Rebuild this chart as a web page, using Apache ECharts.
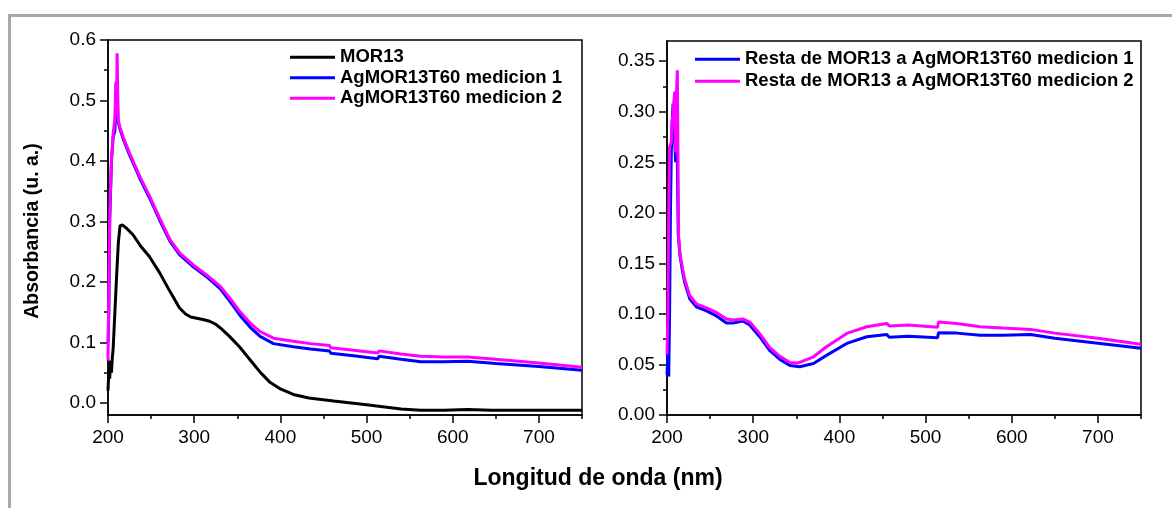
<!DOCTYPE html>
<html>
<head>
<meta charset="utf-8">
<script src="https://cdn.jsdelivr.net/npm/echarts@6/dist/echarts.min.js"></script>
<style>
  html, body { margin: 0; padding: 0; background: #ffffff; }
  #chart { width: 1172px; height: 508px; }
</style>
</head>
<body>
<div id="chart"></div>
<script>
// ---- UV-Vis spectra: wavelength (nm) and absorbance (u. a.) ----

// Left panel: MOR13
const wlMor13 = [200, 201, 202, 203, 204, 205, 206, 208, 210, 212, 214, 217, 222, 229, 238, 248, 260, 272, 283,
  290, 296, 303, 310, 318, 325, 332, 341, 353, 365, 377, 388, 400, 415, 433, 462, 500, 540, 563, 590,
  617, 645, 671, 700, 750];
const absMor13 = [0.020, 0.055, 0.040, 0.070, 0.050, 0.075, 0.090, 0.150, 0.210, 0.265, 0.293, 0.294, 0.288, 0.278, 0.259, 0.242, 0.215, 0.184, 0.157,
  0.147, 0.142, 0.140, 0.138, 0.135, 0.130, 0.122, 0.110, 0.092, 0.071, 0.050, 0.034, 0.023, 0.014, 0.008, 0.003, -0.003, -0.010, -0.012, -0.012,
  -0.011, -0.012, -0.012, -0.012, -0.012];

// Left panel: AgMOR13T60 medicion 1
const wlAgM1 = [200, 201, 202, 204, 206, 208, 209, 210, 210.8, 212.2, 214, 217.5, 225, 237, 248.5, 260, 272, 283, 299, 314,
  330, 341.5, 353, 365, 376.5, 392, 415, 435, 457, 458.5, 485, 513, 514.5, 540, 563, 590, 617, 650, 700, 750];
const absAgM1 = [0.100, 0.150, 0.300, 0.400, 0.440, 0.450, 0.500, 0.530, 0.470, 0.462, 0.452, 0.437, 0.410, 0.371, 0.338, 0.302, 0.267, 0.245, 0.225, 0.209,
  0.189, 0.168, 0.145, 0.125, 0.110, 0.098, 0.093, 0.089, 0.086, 0.082, 0.078, 0.073, 0.077, 0.072, 0.068, 0.068, 0.069, 0.065, 0.060, 0.054];

// Left panel: AgMOR13T60 medicion 2
const wlAgM2 = [200, 202, 204, 206, 208, 209, 209.8, 210.6, 211.4, 212.2, 214, 217.5, 225, 237, 248.5, 260, 272, 283, 299, 314,
  330, 341.5, 353, 365, 376.5, 392, 415, 435, 457, 458.5, 485, 513, 514.5, 540, 563, 590, 617, 650, 700, 750];
const absAgM2 = [0.070, 0.314, 0.400, 0.446, 0.470, 0.530, 0.490, 0.578, 0.500, 0.465, 0.455, 0.440, 0.413, 0.374, 0.341, 0.305, 0.270, 0.248, 0.228, 0.212,
  0.193, 0.173, 0.151, 0.132, 0.118, 0.107, 0.102, 0.098, 0.095, 0.091, 0.087, 0.0826, 0.086, 0.081, 0.077, 0.076, 0.076, 0.072, 0.066, 0.059];

// Right panel: Resta de MOR13 a AgMOR13T60 medicion 1
const wlResta1 = [200, 201, 202, 203, 204, 205, 206, 207, 208, 209, 210, 211, 212, 213, 215, 218, 220.6, 226.4, 234, 245.8,
  257.4, 269, 276.7, 288, 296, 308, 319, 331, 342.7, 354, 370, 385, 408.6, 431.8, 455, 457, 458, 480, 514, 515,
  536, 563.6, 590, 621.7, 650, 700, 750];
const absResta1 = [0.040, 0.060, 0.038, 0.100, 0.200, 0.260, 0.290, 0.308, 0.308, 0.270, 0.250, 0.300, 0.250, 0.180, 0.158, 0.142, 0.131, 0.115, 0.107, 0.103,
  0.098, 0.091, 0.091, 0.093, 0.089, 0.077, 0.064, 0.055, 0.049, 0.0477, 0.051, 0.059, 0.0708, 0.0774, 0.0797, 0.080, 0.0768, 0.078, 0.0764, 0.0813,
  0.081, 0.079, 0.079, 0.0797, 0.076, 0.071, 0.066];

// Right panel: Resta de MOR13 a AgMOR13T60 medicion 2
const wlResta2 = [200, 201, 202, 203, 204, 205, 206, 207, 208, 209, 210, 211, 212, 212.8, 213.5, 215, 218, 220.6, 226.4, 234,
  245.8, 257.4, 269, 276.7, 288, 296, 308, 319, 331, 342.7, 350, 354, 370, 385, 408.6, 431.8, 455, 457, 458, 480,
  514, 515, 536, 563.6, 590, 621.7, 650, 700, 750];
const absResta2 = [0.060, 0.100, 0.200, 0.265, 0.265, 0.270, 0.290, 0.300, 0.310, 0.320, 0.260, 0.320, 0.341, 0.250, 0.176, 0.160, 0.145, 0.134, 0.118, 0.110,
  0.106, 0.1015, 0.095, 0.094, 0.095, 0.092, 0.080, 0.067, 0.058, 0.052, 0.0515, 0.052, 0.0576, 0.0675, 0.0807, 0.0873, 0.0906, 0.091, 0.088, 0.089,
  0.0867, 0.092, 0.0906, 0.0873, 0.086, 0.0847, 0.081, 0.076, 0.070];

// Axis ticks and labels
const xMajorTicks = [200, 300, 400, 500, 600, 700];
const xMinorTicks = [250, 350, 450, 550, 650, 750];
const yLeftMajor = [0.0, 0.1, 0.2, 0.3, 0.4, 0.5, 0.6];
const yLeftMinor = [0.05, 0.15, 0.25, 0.35, 0.45, 0.55];
const yRightMajor = [0.00, 0.05, 0.10, 0.15, 0.20, 0.25, 0.30, 0.35];
const yRightMinor = [0.025, 0.075, 0.125, 0.175, 0.225, 0.275, 0.325];

const leftNames = ['MOR13', 'AgMOR13T60 medicion 1', 'AgMOR13T60 medicion 2'];
const rightNames = ['Resta de MOR13 a AgMOR13T60 medicion 1', 'Resta de MOR13 a AgMOR13T60 medicion 2'];

const FONT = 'Liberation Sans, Arial, Helvetica, sans-serif';
const zip = (xs, ys) => xs.map((x, i) => [x, ys[i]]);

function majorX(gridIndex) {
  return {
    type: 'value', gridIndex, position: 'bottom', min: 200, max: 750,
    axisLine: { show: true, onZero: false, lineStyle: { color: '#000', width: 1.5 } },
    axisTick: { show: true, customValues: xMajorTicks, length: 8, inside: false, lineStyle: { color: '#000', width: 1.5 } },
    axisLabel: { customValues: xMajorTicks, margin: 13, fontFamily: FONT, fontSize: 19, color: '#000' },
    splitLine: { show: false }
  };
}
function minorX(gridIndex) {
  return {
    type: 'value', gridIndex, position: 'bottom', min: 200, max: 750,
    axisLine: { show: false, onZero: false },
    axisTick: { show: true, customValues: xMinorTicks, length: 4, lineStyle: { color: '#000', width: 1.5 } },
    axisLabel: { show: false },
    splitLine: { show: false }
  };
}
function majorY(gridIndex, min, max, ticks, digits) {
  return {
    type: 'value', gridIndex, position: 'left', min, max,
    axisLine: { show: true, onZero: false, lineStyle: { color: '#000', width: 1.5 } },
    axisTick: { show: true, customValues: ticks, length: 8, lineStyle: { color: '#000', width: 1.5 } },
    axisLabel: { customValues: ticks, margin: 12, fontFamily: FONT, fontSize: 19, color: '#000',
      formatter: v => v.toFixed(digits) },
    splitLine: { show: false }
  };
}
function minorY(gridIndex, min, max, ticks) {
  return {
    type: 'value', gridIndex, position: 'left', min, max,
    axisLine: { show: false, onZero: false },
    axisTick: { show: true, customValues: ticks, length: 4, lineStyle: { color: '#000', width: 1.5 } },
    axisLabel: { show: false },
    splitLine: { show: false }
  };
}
function lineSeries(name, data, color, xAxisIndex, yAxisIndex) {
  return {
    type: 'line', name, data, xAxisIndex, yAxisIndex,
    showSymbol: false, symbol: 'none', smooth: false, animation: false,
    lineStyle: { color, width: 3 }, itemStyle: { color }
  };
}
function legendBlock(names, left, top, gap) {
  return {
    data: names, orient: 'vertical', left, top, padding: 0, itemGap: gap,
    icon: 'rect', itemWidth: 45, itemHeight: 3, selectedMode: false,
    textStyle: { fontFamily: FONT, fontWeight: 'bold', fontSize: 18.5, lineHeight: 20.5, color: '#000' }
  };
}

const chart = echarts.init(document.getElementById('chart'), null, { renderer: 'canvas' });
chart.setOption({
  backgroundColor: '#ffffff',
  animation: false,
  grid: [
    { left: 108, top: 40, width: 474, height: 375, show: true, borderColor: '#000', borderWidth: 1.5, backgroundColor: 'transparent' },
    { left: 667, top: 41, width: 474, height: 374, show: true, borderColor: '#000', borderWidth: 1.5, backgroundColor: 'transparent' }
  ],
  xAxis: [majorX(0), minorX(0), majorX(1), minorX(1)],
  yAxis: [
    majorY(0, -0.02, 0.6, yLeftMajor, 1), minorY(0, -0.02, 0.6, yLeftMinor),
    majorY(1, 0, 0.37, yRightMajor, 2), minorY(1, 0, 0.37, yRightMinor)
  ],
  legend: [
    legendBlock(leftNames, 290, 47, 0),
    legendBlock(rightNames, 695, 49, 1.5)
  ],
  series: [
    lineSeries(leftNames[0], zip(wlMor13, absMor13), '#000000', 0, 0),
    lineSeries(leftNames[1], zip(wlAgM1, absAgM1), '#0000ff', 0, 0),
    lineSeries(leftNames[2], zip(wlAgM2, absAgM2), '#ff00ff', 0, 0),
    lineSeries(rightNames[0], zip(wlResta1, absResta1), '#0000ff', 2, 2),
    lineSeries(rightNames[1], zip(wlResta2, absResta2), '#ff00ff', 2, 2)
  ],
  graphic: [
    { type: 'rect', left: 7, top: 13, silent: true,
      shape: { x: 0, y: 0, width: 1200, height: 520 },
      style: { fill: 'none', stroke: '#a8a8a8', lineWidth: 3 } },
    { type: 'text', x: 598, y: 479, silent: true,
      style: { text: 'Longitud de onda (nm)', fontFamily: FONT, fontWeight: 'bold', fontSize: 23,
        fill: '#000', align: 'center', verticalAlign: 'middle' } },
    { type: 'text', x: 33, y: 231, rotation: Math.PI / 2, silent: true,
      style: { text: 'Absorbancia (u. a.)', fontFamily: FONT, fontWeight: 'bold', fontSize: 19.5,
        fill: '#000', align: 'center', verticalAlign: 'middle' } }
  ]
});
</script>
</body>
</html>
